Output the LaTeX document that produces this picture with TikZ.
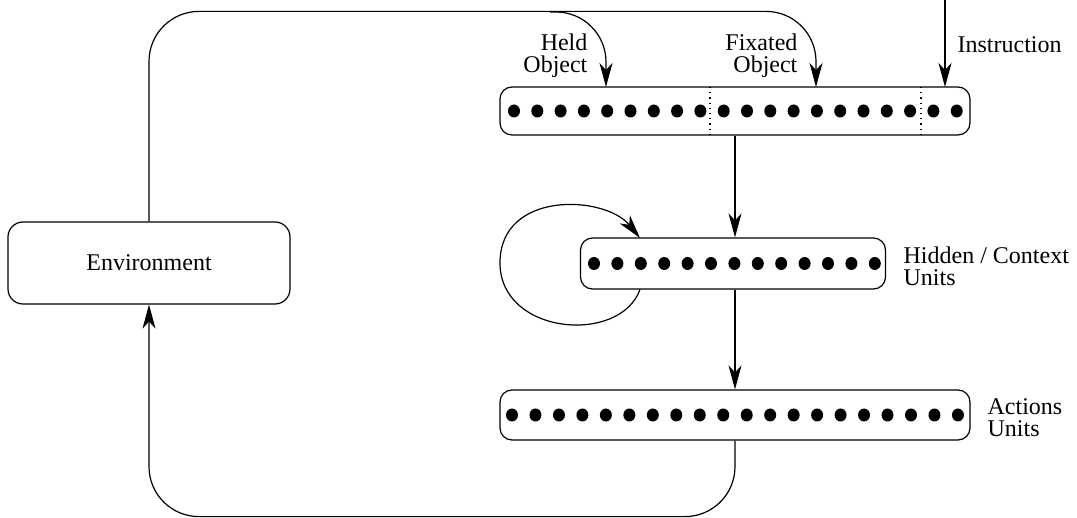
\documentclass[tikz,border=0pt]{standalone}
\usepackage{fontspec}
\setmainfont{Liberation Serif}
\usetikzlibrary{arrows.meta}
\def\lbl{\fontsize{12}{11}\selectfont}

\begin{document}
\begin{tikzpicture}[x=0.5pt,y=-0.5pt, line width=0.6pt,
   layer/.style={draw,rounded corners=6pt,inner sep=0pt},
   unit/.style={fill=black},
   tip/.style={-{Stealth[length=12pt,width=6.5pt,inset=3.5pt]}},
   txt/.style={font=\lbl,inner sep=0pt}]
\useasboundingbox (0,0) rectangle (1077,518);
       \node [layer,minimum width=235pt,minimum height=24pt] at (735,111) (input) {};
       \node [layer,minimum width=152.5pt,minimum height=25.5pt] at (733,263.5) (hidden) {};
       \node [layer,minimum width=235pt,minimum height=25pt] at (735,415) (action) {};
       \node [layer,rounded corners=7.5pt,minimum width=141pt,minimum height=41pt] at (149,263) (env) {\fontsize{12}{12}\selectfont Environment};
%
       \node [txt,anchor=east,align=right] at (588,56) (heldtxt) {Held\\Object};
       \node [txt,anchor=east,align=right] at (798,56) (fixtxt) {Fixated\\Object};
       \node [txt,anchor=west] at (957,45) (instrtxt) {Instruction};
       \node [txt,anchor=west,align=left] at (903,266) (hidtxt) {Hidden / Context\\Units};
       \node [txt,anchor=west,align=left] at (987,418) (acttxt) {Actions\\Units};
%
       \coordinate (held) at (606,87);
       \coordinate (fix) at (816,87);
       \coordinate (instr) at (945,87);
       \coordinate (instrtop) at (945,0);
       \coordinate (heldstart) at (550,12);
%
% units
\foreach \i in {0,...,19} \fill[unit] (514+23.3*\i,111) ellipse [x radius=6,y radius=6.5];
\foreach \i in {0,...,12} \fill[unit] (594+23.4*\i,263.5) ellipse [x radius=6,y radius=6.5];
\foreach \i in {0,...,19} \fill[unit] (512+23.47*\i,415) ellipse [x radius=6,y radius=6.5];
\draw[dotted] (710,87) -- (710,135);
\draw[dotted] (921,87) -- (921,135);
%
\draw[tip] (input.south) -- (input.south |- hidden.north);
\draw[tip] (hidden.south -| input.south) -- (action.north);
\draw[tip] (instrtop) -- (instr);
\draw[tip,rounded corners=25pt] (env.north) -- ++(0,-210) -| (fix);
\draw[tip,rounded corners=25pt] (heldstart) -| (held);
\draw[tip,rounded corners=25pt] (action.south) -- ++(0,76) -| (env.south);
\draw[tip] (640,289.5) .. controls (620,345) and (500,335) .. (500,263)
                       .. controls (500,190) and (605,195) .. (640,238);
\end{tikzpicture}
\end{document}
